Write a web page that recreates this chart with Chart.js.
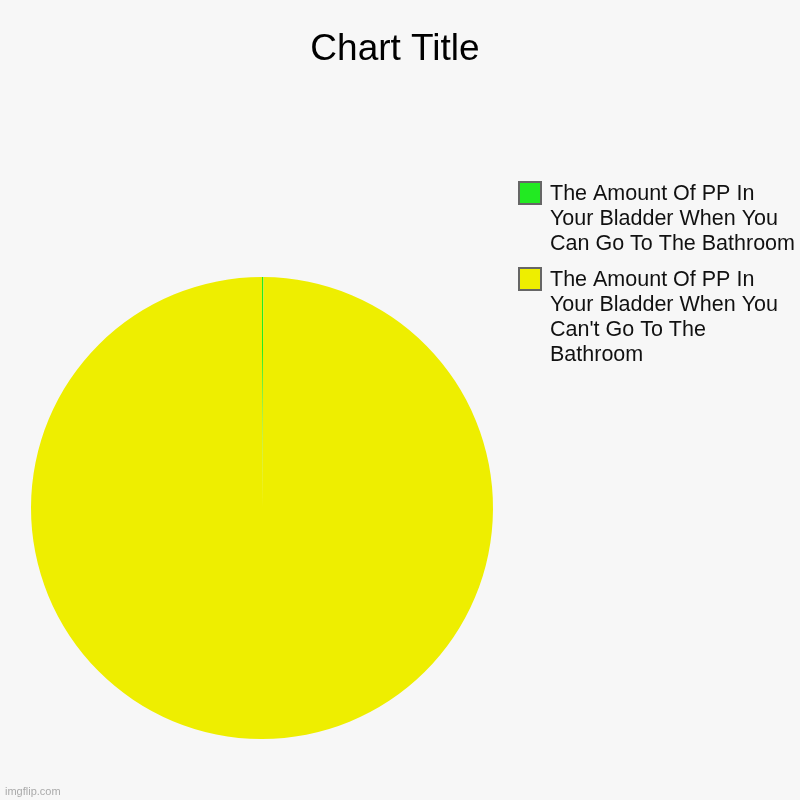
<!DOCTYPE html>
<html>
<head>
<meta charset="utf-8">
<script src="https://cdn.jsdelivr.net/npm/chart.js@4/dist/chart.umd.min.js"></script>
<style>
  html, body { margin: 0; padding: 0; background: #f7f7f7; }
  #wrap { width: 800px; height: 800px; }
</style>
</head>
<body>
<div id="wrap"><canvas id="pie" width="800" height="800"></canvas></div>
<script>
const TITLE = 'Chart Title';
const LABELS = [
  ['The Amount Of PP In', 'Your Bladder When You', 'Can Go To The Bathroom'],
  ['The Amount Of PP In', 'Your Bladder When You', "Can't Go To The", 'Bathroom']
];
const VALUES = [1, 1000];
const COLORS = ['#22ea22', '#eeee00'];
const FONT = '"Liberation Sans", Arial, sans-serif';

// title, right-hand legend and watermark drawn onto the canvas
const decorations = {
  id: 'decorations',
  beforeDraw(chart) {
    const c = chart.ctx;
    c.save();
    c.fillStyle = '#f7f7f7';
    c.fillRect(0, 0, chart.width, chart.height);
    c.restore();
  },
  afterDraw(chart) {
    const c = chart.ctx;
    c.save();
    c.fillStyle = '#000';
    c.font = `37px ${FONT}`;
    c.textAlign = 'center';
    c.textBaseline = 'alphabetic';
    c.fillText(TITLE, 395, 60);

    let top = 181;
    c.font = `21.5px ${FONT}`;
    c.textAlign = 'left';
    chart.data.labels.forEach((lines, i) => {
      c.fillStyle = chart.data.datasets[0].backgroundColor[i];
      c.fillRect(519, top + 1, 22, 22);
      c.strokeStyle = '#666';
      c.lineWidth = 2;
      c.strokeRect(519, top + 1, 22, 22);
      c.fillStyle = '#111';
      lines.forEach((ln, j) => c.fillText(ln, 550, top + 19 + j * 25));
      top += lines.length * 25 + 11;
    });

    c.fillStyle = '#aaa';
    c.font = `11px ${FONT}`;
    c.fillText('imgflip.com', 5, 795);
    c.restore();
  }
};

new Chart(document.getElementById('pie'), {
  type: 'pie',
  data: {
    labels: LABELS,
    datasets: [{
      data: VALUES,
      backgroundColor: COLORS,
      borderWidth: 0
    }]
  },
  options: {
    responsive: false,
    animation: false,
    devicePixelRatio: 1,
    layout: { padding: { left: 31, right: 307, top: 277, bottom: 61 } },
    plugins: {
      legend: { display: false },
      title: { display: false },
      tooltip: { enabled: false }
    }
  },
  plugins: [decorations]
});
</script>
</body>
</html>
